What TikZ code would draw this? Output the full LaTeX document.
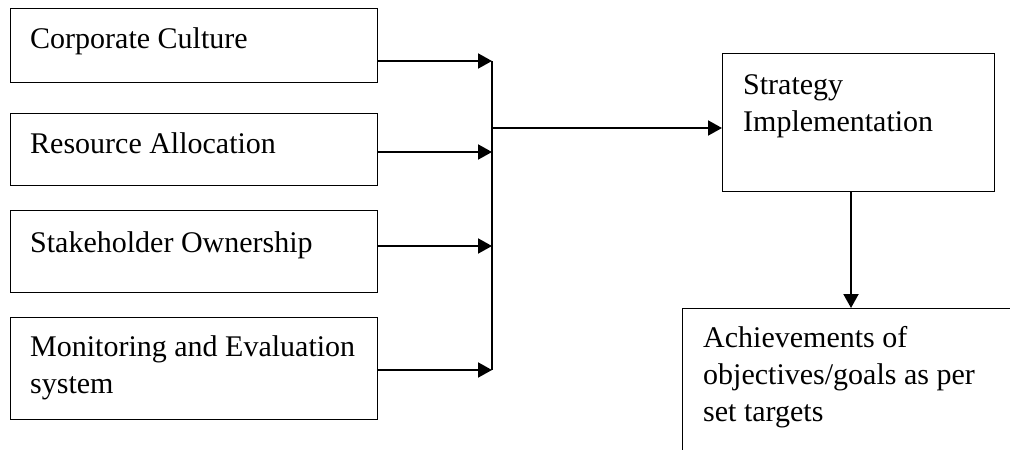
\documentclass[tikz,border=0pt]{standalone}
\usepackage{fontspec}
\setmainfont{Liberation Serif}
\usetikzlibrary{arrows.meta}
\begin{document}
\begin{tikzpicture}[x=1pt,y=-1pt,
  boxstyle/.style={draw,line width=1.4pt,rectangle,anchor=north west,inner sep=0pt},
  txt/.style={anchor=base west,inner sep=0pt,align=left,font=\fontsize{30}{37}\selectfont},
  conn/.style={line width=2pt},
  arr/.style={conn,-{Triangle[length=14pt,width=15pt]}}]
\useasboundingbox (0,0) rectangle (1010,450);
\clip (0,0) rectangle (1010,450);
\fill[white] (0,0) rectangle (1010,450);
% boxes
\node[boxstyle,minimum width=367pt,minimum height=74pt] (b1) at (10,8) {};
\node[boxstyle,minimum width=367pt,minimum height=72pt] (b2) at (10,113) {};
\node[boxstyle,minimum width=367pt,minimum height=82pt] (b3) at (10,210) {};
\node[boxstyle,minimum width=367pt,minimum height=102pt] (b4) at (10,317) {};
\node[boxstyle,minimum width=272pt,minimum height=138pt] (si) at (722,53) {};
\node[boxstyle,minimum width=360pt,minimum height=180pt] (ach) at (682,308) {};
% texts (base = baseline of last line)
\node[txt] (t1) at (30,48) {Corporate Culture};
\node[txt] (t2) at (30,153) {Resource Allocation};
\node[txt] (t3) at (30,252) {Stakeholder Ownership};
\node[txt] (t4) at (30,393) {Monitoring and Evaluation\\system};
\node[txt] (t5) at (743,131) {Strategy\\Implementation};
\node[txt] (t6) at (703,421) {Achievements of\\objectives/goals as per\\set targets};
% bus coordinates
\coordinate (j1) at (492,61);
\coordinate (j2) at (492,152);
\coordinate (j3) at (492,246);
\coordinate (j4) at (492,370);
\coordinate (jm) at (492,128);
\coordinate (sd) at (851,191);
% connectors
\draw[arr] (b1.east |- j1) -- (j1);
\draw[arr] (b2.east |- j2) -- (j2);
\draw[arr] (b3.east |- j3) -- (j3);
\draw[arr] (b4.east |- j4) -- (j4);
\draw[conn] (j1) -- (j4);
\draw[arr] (jm) -- (si.west |- jm);
\draw[arr] (sd) -- (ach.north -| sd);
\end{tikzpicture}
\end{document}
